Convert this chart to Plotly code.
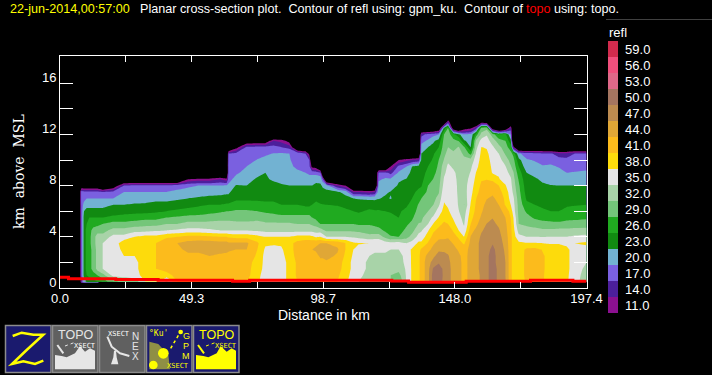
import plotly.graph_objects as go

# ---- reflectivity (dBZ) profiles: each list runs upward from 0.5 km in 0.5 km steps ----
col_00_0 = [0]
col_07_0 = [0]
col_08_0 = [14,18,18,18,18,18,18,18,18,18,18,18,18,19,19,5,0]
col_09_0 = [22,24,24,24,24,24,24,24,24,24,24,23,21,19,18,5,0]
col_10_0 = [23,26,27,27,27,27,27,27,27,26,25,24,22,20,18,5,0]
col_11_0 = [24,27,28,28,28,28,28,28,28,27,26,24,22,20,18,5,0]
col_12_5 = [25,28,30,30,30,30,31,31,30,28,26,24,22,20,18,5,0]
col_14_0 = [26,29,33,33,33,33,33,33,31,28,26,24,22,20,18,5,0]
col_16_0 = [27,31,35,35,35,35,35,33,31,29,26,24,22,20,17,0]
col_20_0 = [31,36,36,36,36,36,36,36,33,30,27,24,23,20,18,6,0]
col_24_0 = [33,36,36,37,38,39,40,36,33,30,27,25,23,21,20,17,0]
col_28_0 = [33,37,37,37,38,40,40,38,34,30.5,27.5,25,23.5,21,20,18,0]
col_32_0 = [38,39,40,40,40,40,40,39,34,31,28,25,23.5,21.5,20,18,0]
col_36_0 = [40,41,41,41,41,41,41,39,34.5,31,28,25.5,24,22,20,18,0]
col_40_0 = [34,40,42,42,42,42,43,40.5,35,32,29,26,24,22,20,18,0]
col_44_0 = [41,42,42,42,42,43,44,41,35.5,32,29.5,26.5,24.5,22.5,20.5,19,0]
col_48_0 = [41,42,42,42,43,45,45,42,36,33,30,27,25,23,21,19.5,11,0]
col_52_0 = [41,42,42,42,43,45,45.5,42,36,33,30,27.5,25.5,23.5,21,20,12,0]
col_56_0 = [41,42,42,43,44,45.5,45.5,41.5,35.5,33,30.5,28,26,24,21.5,20,12,0]
col_60_0 = [41,42,42,43,43.5,45,45,41,35,33,31,28.5,26,24,22,20,14,0]
col_62_5 = [41,42,42,42,43,45,45,41,35,33,31,29,26.5,24,22.5,20.5,12,0]
col_63_2 = [41,42,42,42,43,44.5,44.5,40.5,35,33,31,29,26.5,24,22.5,20.5,19,19,19,18,17,0]
col_66_0 = [41,42,42,42,43,44,44.5,40,35,33,30.5,29.5,27,25.5,24.5,23.2,21,19.5,18.5,18.5,18,9,0]
col_70_0 = [41,42,42,42,43,44,44.5,40,35,33,30.5,29.5,27,25.5,24.5,23,22,21,20,18.5,18,18,6,0]
col_74_0 = [38.5,39,39.5,40,40.5,41,41.5,39,34.5,33,31,29,26.5,25.7,24.5,24,23.4,22,21,20.2,18.5,18,7,0]
col_77_0 = [36.5,36.5,37,37,37,37.5,38.5,38,34,32.5,30.5,28.5,26.5,25.5,24.5,24,23.5,23,21.5,20.8,19.5,18,7,0]
col_80_0 = [36,36,36,36,36,37,38.5,38,34,32.5,30.5,28,26.5,25.5,24.5,24,22.5,21.5,21.2,21,20.1,18,14,0]
col_83_0 = [36.5,36.5,36.5,36.5,37,37.5,38.5,38,34,32.5,30,27.5,26,25,24,23.5,21.5,21,20.8,21,20.3,17,13,0]
col_86_0 = [39,39,39,39,39.5,40,40,38,34,32.5,30,27.5,26,25,24,23,21,20.5,20.5,20.2,20,16,9,0]
col_89_0 = [41,41.5,41.5,41.5,42,42,42,39,34,32,30,27.5,26,25,24,23,21.5,20.5,19.5,19,20,2,0]
col_92_0 = [41,42,42,42,42,43,43,39,34,32,30,27.5,25.5,24.5,23.5,23,21,20,19,19,17,0]
col_93_5 = [41,42,42,42,42.5,43.5,43,39,34,32,30,27.5,25.5,24.5,23.5,23,21,19.5,18,17,9,0]
col_94_5 = [41,42,42,42,43,44,43,38.5,34,31.5,29,27.5,26,25,24,23,21,19.5,9,0]
col_96_0 = [41,42,42,42,43,44.5,43.5,37.5,33.5,31,28,27,26.8,25.2,24.5,23.7,22,19,8,0]
col_97_6 = [42,42,42,43,44.5,45.5,44,38,33.5,29,28,27,26.2,25,24,23.5,22,18,0]
col_98_5 = [42,43,43,43,44.5,45.5,44,37,32.5,29,28,27,26.1,25,24,22.5,18,0]
col_100_0 = [42,43,43,43.5,45,46,44,35,31.5,29,28,27,26,25,24,21,0]
col_104_0 = [41,41.5,42,42.5,43.5,44.5,43,35,31.5,29,28,27,25.8,24.8,23.5,14,0]
col_107_0 = [39,39.5,40,40,40.5,41,41,35,31.5,29,27.5,26.5,25.3,24,22,11,0]
col_110_0 = [35.5,36.5,37,37,37.5,38,38.5,34.5,31.5,29,27.5,26,24.5,23,14,0]
col_112_0 = [35,36,36,36,36.5,37,38.2,34,31.3,28.6,27.5,25.5,24.5,22.8,14,0]
col_116_0 = [33,33.5,34.5,34.5,35,36,38,33,30.5,28.7,27.5,26.6,24.5,22.5,13,0]
col_118_0 = [33,33,33,33,34,36,38,33.5,30,28.5,27.3,26.3,24.3,22.5,14,0]
col_119_5 = [33,33,33,33,34,36,38,33.5,30,28,27,26.3,24.8,22.8,22,21,19.5,18,0]
col_122_0 = [32.5,33,33.5,34,34.5,35.5,36.5,31,28.5,27.5,27,26,25,23.5,22.5,21.5,20.5,18,0]
col_124_0 = [32,32,33,33.5,34,35,36,29.2,28,27.5,27,25.7,25,22.8,23.2,21,20.5,16,11,0]
col_127_0 = [29,31,33,33.5,34,35,36.5,29,27.7,27,26,25.7,25,24.5,24,23.5,22.5,20.5,18,11,0]
col_130_0 = [35.5,35.5,35.5,36,36,36.5,35,31,29.8,28.6,27.7,26.6,25.7,25,24.4,23.8,23.2,21.5,20,13,0]
col_132_0 = [38.5,38.5,38.5,38.5,38.5,38.5,36,33,31,29.7,28.5,27.6,26.8,26,25.5,25,24.5,24,23,14,0]
col_134_5 = [40.5,40.5,40.5,40.5,40.5,40,38.7,36,34.2,32.2,31,30,29.3,28,26.5,25.6,25,24.5,24,15,0]
col_135_5 = [42,42,42,42,42,41.5,38.5,36.5,34.7,32.2,31.4,30.7,30,29,27,25.8,25,24.5,24,23.6,23,21,19,16,0]
col_138_0 = [46,46,46,46,45,43,41.3,39.3,37.7,35,33.8,32,31,30.3,29.7,29,28,27,26,25,24,23,20.5,18,0]
col_140_0 = [51.5,51.5,50.5,48,46.5,45,43.6,42,40.5,38.2,35.5,33.5,32,31.2,30.4,29.7,29.1,28.2,27.3,26.4,25.7,24,22.5,19,0]
col_142_0 = [52,52,51.5,49.7,48,46.6,45,43.3,41.8,40.2,38.2,36.4,34.5,32.9,31.7,31.1,30.6,30.1,29.6,29,27.5,26,24,20,4,0]
col_144_0 = [49,49.3,49.3,48.7,47.8,46.5,44.8,43.5,42.4,41.5,40,39,38.2,37.7,37,36,35.3,34.4,33.7,32.2,31.2,30.5,30,29,24,0]
col_145_5 = [48.5,48.5,48.5,48,47.3,46,45,43.7,42.5,41,39.6,38.3,37.7,37.4,37,36.8,36.5,36,35.5,34.5,33,32,31,30.5,29,14,0]
col_147_5 = [45.5,45.5,45.5,45.5,45.3,45,43.8,42,40.7,38.9,37.6,37,36.8,36.5,36.2,36,35.8,35.5,34.6,33.4,32.5,31.2,29.8,27,6,0]
col_149_5 = [45,45,45,45,44.6,43.6,42,40.6,38,36.5,35.7,35.1,34.7,34.6,34.5,34.5,34.4,34.2,33.8,33.5,33,32.2,28.8,24,0]
col_151_5 = [43,43,43,43,43,42.6,40.6,38,35.7,34.7,34.2,33.5,31.9,33,33.6,33.8,33.8,33.5,33,32.6,31.5,29.5,23.5,20,8,0]
col_154_0 = [45,45,45,45,45,45,44.8,44.2,42.8,41,40,39,38.3,37.6,37,36.5,35.8,35.2,34.5,33,28,23,21.5,20.5,10,0]
col_156_0 = [46,46,46,46,46,46,46,45.5,44.7,43.2,42.4,41.8,41.4,40.9,40,39.4,38.8,38.1,37,36.3,35.3,34,32.5,27.5,15,0]
col_158_0 = [47.5,47.5,48,48,48,48,48,47.5,46.7,45.6,44.4,43.7,43.3,42.8,42.1,41.5,40.8,40.2,39.6,39,38.6,38.1,36,33,30,7,0]
col_160_0 = [49.5,49.5,49.5,49.5,49.5,49,49,48.5,47.7,47.1,46,45.2,44.6,43.9,43.2,42.4,40.9,40.6,40,39.5,38.8,37.7,36.3,34.7,31,5,0]
col_162_2 = [51,51,51,51,51,50.7,49.8,49,48.4,47.7,46.9,46,45.2,44.4,43.5,42,40.6,37.7,37.2,36.6,36,35.5,33.5,30.6,6,0]
col_164_5 = [49.5,49.5,49.5,49,49,48.8,48.5,48,47.4,46.5,45.8,45,44,43.3,42.2,41,38.2,37.7,37,36.2,35,33,30.5,26,0]
col_167_0 = [47.3,47,47,47,46.8,46.5,46,45.5,45,44.6,44,43,40.7,40.3,39.5,38.2,37,36.2,35.2,33.5,31.6,30.3,29,27,4,0]
col_169_0 = [42,42,42,42,42,42,42,42,41.8,41.5,41,40,38,37,36.6,36,35.4,34,32.2,31,29.8,27.5,24,20,15,0]
col_170_0 = [39.5,39.5,39.5,39.5,39.5,39.5,39.5,39.5,39,38.5,38,36.5,36,35.5,34.3,33.5,33,32.2,31,30,28.2,13,0]
col_172_0 = [39,39,39,39,39,39,38.7,35.8,33.8,32,31.5,31.2,31,30.5,30,29.5,28.7,27.5,26,24,20.5,0]
col_175_0 = [41.5,42,42,42,42,41.8,38.2,35,33,31.5,30,28.5,26.7,25.5,24.7,24.2,23.7,23,21,20.3,18.5,0]
col_178_0 = [43,43,43,43,43,42,38.2,35,33,30.8,28.5,27,26,25.3,24.5,23.9,23.4,22,20.8,19.8,18,0]
col_181_0 = [41.2,41.2,41.3,41.3,41.3,40.8,38,34.9,32.5,30,28,26.6,25.3,24.6,24,23.4,22.5,21.3,20.2,19,17.5,0]
col_184_0 = [40,40,40,40,40,40,37.7,35,32.5,30,27.5,26,25,24.3,23.7,23.1,22,21,20.4,19,17.5,0]
col_187_0 = [39.5,39.5,39.5,39.5,39.5,39.5,37.8,35,32.7,30,27,26,25.2,24.3,23.7,23,21.8,21,19.8,18.5,15,0]
col_190_0 = [38.5,38.5,38.5,38.5,38.5,38.5,37.5,35,32.7,30.2,28,26.6,25.7,24.7,23.8,23,21.5,20,19,18,15,0]
col_193_0 = [36,36.5,37,37,37,37,38,35.5,33,30.3,28.2,27,25.8,24.8,23.8,23,21.5,20.2,19,18.5,17,0]
col_197_4 = [33.5,33.5,34,35,36,37,38.5,36,33,30.5,28.5,27,26,25,24,23,21.5,20.3,19.5,18.5,17,0]

distance_km = [0,7,8,9,10,11,12.5,14,16,20,24,28,32,36,40,44,48,52,56,60,62.5,63.2,66,70,74,77,80,83,86,89,92,93.5,94.5,
               96,97.6,98.5,100,104,107,110,112,116,118,119.5,122,124,127,130,132,134.5,135.5,138,140,142,144,145.5,147.5,
               149.5,151.5,154,156,158,160,162.2,164.5,167,169,170,172,175,178,181,184,187,190,193,197.4]
profiles = [col_00_0,col_07_0,col_08_0,col_09_0,col_10_0,col_11_0,col_12_5,col_14_0,col_16_0,col_20_0,col_24_0,col_28_0,col_32_0,
            col_36_0,col_40_0,col_44_0,col_48_0,col_52_0,col_56_0,col_60_0,col_62_5,col_63_2,col_66_0,col_70_0,col_74_0,col_77_0,
            col_80_0,col_83_0,col_86_0,col_89_0,col_92_0,col_93_5,col_94_5,col_96_0,col_97_6,col_98_5,col_100_0,col_104_0,col_107_0,
            col_110_0,col_112_0,col_116_0,col_118_0,col_119_5,col_122_0,col_124_0,col_127_0,col_130_0,col_132_0,col_134_5,col_135_5,
            col_138_0,col_140_0,col_142_0,col_144_0,col_145_5,col_147_5,col_149_5,col_151_5,col_154_0,col_156_0,col_158_0,col_160_0,
            col_162_2,col_164_5,col_167_0,col_169_0,col_170_0,col_172_0,col_175_0,col_178_0,col_181_0,col_184_0,col_187_0,col_190_0,
            col_193_0,col_197_4]
profile_heights = [0.5 + 0.5 * i for i in range(27)]
near_ground_km = {8: 18, 9: 23, 10: 24, 11: 24, 12.5: 25, 14: 25}   # echo just under the topo line at the near edge

topo_km = [0, 3.2, 20.9, 36.8, 64.7, 71.1, 124.4, 130.7, 152.3, 176.4, 192.3, 197.4]
topo_height = [0.84, 0.73, 0.66, 0.60, 0.52, 0.60, 0.55, 0.45, 0.52, 0.60, 0.52, 0.52]

levels = [11, 14, 17, 20, 23, 26, 29, 32, 35, 38, 41, 44, 47, 50, 53, 56, 59]
level_colors = ["#8b1090", "#4c1f9c", "#7a60e0", "#72b2d2", "#118a11", "#20aa20", "#74c67a", "#a8d3a8", "#e5e5e5",
                "#fddb0c", "#fcbb1c", "#e0a736", "#bc8b50", "#a47560", "#df6888", "#f04f7c", "#d12b4d"]
x_tick_labels = ["0.0", "49.3", "98.7", "148.0", "197.4"]
y_tick_labels = ["0", "4", "8", "12", "16"]

# ---- layout helpers (canvas pixels to paper fractions) ----
W, H = 712, 375
def fx(x): return x / W
def fy(y): return 1 - y / H

heights = [0.36, 0.46] + profile_heights
rows = []
padded = [p + [0] * (27 - len(p)) for p in profiles]
rows.append([0] * len(distance_km))
rows.append([near_ground_km.get(k, 0) for k in distance_km])
for i in range(27):
    rows.append([c[i] for c in padded])

zmin, zmax = 8, 62
span = zmax - zmin
scale = [[0, "#000000"], [3 / span, "#000000"]]
for lv, col in zip(levels, level_colors):
    scale += [[(lv - zmin) / span, col], [(lv + 3 - zmin) / span, col]]

fig = go.Figure()
fig.add_trace(go.Contour(
    x=distance_km, y=heights, z=rows, zmin=zmin, zmax=zmax, colorscale=scale, autocontour=False,
    contours=dict(start=8, end=62, size=3, coloring="fill", showlines=False),
    line=dict(width=0, smoothing=0), hoverinfo="skip",
    colorbar=dict(
        thicknessmode="pixels", thickness=10, lenmode="pixels", len=288,
        x=fx(608), xanchor="left", xpad=0, y=fy(41), yanchor="top", ypad=0,
        outlinewidth=0, borderwidth=0, bgcolor="rgba(0,0,0,0)",
        tickmode="array", tickvals=[l + 1.5 for l in levels], ticktext=[f"{l:.1f}" for l in levels],
        ticks="outside", ticklen=5, tickcolor="rgba(0,0,0,0)",
        tickfont=dict(family="Liberation Sans", size=13, color="white")),
))
fig.add_trace(go.Scatter(x=topo_km, y=topo_height, mode="lines", line=dict(color="#ff0000", width=3, shape="hv"),
                         hoverinfo="skip", showlegend=False))

x_ticks = [24.675 * i for i in range(9)]
x_text = [x_tick_labels[i // 2] if i % 2 == 0 else "" for i in range(9)]
y_ticks = list(range(0, 18, 2))
y_text = [y_tick_labels[i // 2] if i % 2 == 0 else "" for i in range(9)]

fig.update_layout(
    width=W, height=H, autosize=False, margin=dict(l=0, r=0, t=0, b=0, pad=0, autoexpand=False), showlegend=False,
    paper_bgcolor="black", plot_bgcolor="black",
    font=dict(family="Liberation Sans", color="white", size=13),
    xaxis=dict(domain=[fx(60), fx(586.5)], range=[0, 197.4], tickmode="array", tickvals=x_ticks, ticktext=x_text,
               ticks="inside", ticklen=6, tickcolor="white", tickwidth=1, mirror="ticks", showline=True, linecolor="white",
               linewidth=1, showgrid=False, zeroline=False, tickfont=dict(size=13, color="white"), tickangle=0,
               ticklabelstandoff=-2),
    yaxis=dict(domain=[fy(288), fy(56)], range=[0, 18.125], tickmode="array", tickvals=y_ticks, ticktext=y_text,
               ticks="inside", ticklen=13, tickcolor="white", tickwidth=1, mirror="ticks", showline=True, linecolor="white",
               linewidth=1, showgrid=False, zeroline=False, tickfont=dict(size=13, color="white"), ticklabelshift=-6),
)

def label(text, x, y, size=13, color="white", family="Liberation Sans", anchor="left", angle=0, vanchor="middle"):
    fig.add_annotation(text=text, xref="paper", yref="paper", x=fx(x), y=fy(y), showarrow=False, xanchor=anchor,
                       yanchor=vanchor, textangle=angle, align="left", borderpad=0,
                       font=dict(family=family, size=size, color=color))

label("22-jun-2014,00:57:00", 9, 9, size=12.6, color="#ffff00")
label("Planar cross-section plot.  Contour of refl using: gpm_ku.  Contour of", 139, 9, size=12.6)
label("topo", 525, 9, size=12.6, color="#ff0000")
label("using: topo.", 553, 9, size=12.6)
label("refl", 608, 32)
label("Distance in km", 324, 315, anchor="center", size=14)
label("km  above  MSL", 19, 172, anchor="center", angle=-90, size=14, family="DejaVu Serif")

shapes = []
def rect(x0, y0, x1, y1, fill, line=None, lw=0):
    shapes.append(dict(type="rect", xref="paper", yref="paper", x0=fx(x0), x1=fx(x1), y0=fy(y0), y1=fy(y1),
                       fillcolor=fill, line=dict(color=line or fill, width=lw)))
def ipath(points, fill=None, line=None, lw=0, close=True, dash="solid"):
    # points in button-strip coordinates: x/3 px from the left, y/3 px from y = 320
    d = "M " + " L ".join(f"{fx(a / 3):.5f} {fy(320 + b / 3):.5f}" for a, b in points) + (" Z" if close else "")
    shapes.append(dict(type="path", xref="paper", yref="paper", path=d, fillcolor=fill or "rgba(0,0,0,0)",
                       line=dict(color=line or "rgba(0,0,0,0)", width=lw, dash=dash)))
def blob(cx, cy, r, fill):
    shapes.append(dict(type="circle", xref="paper", yref="paper", x0=fx((cx - r) / 3), x1=fx((cx + r) / 3),
                       y0=fy(320 + (cy - r) / 3), y1=fy(320 + (cy + r) / 3), fillcolor=fill, line=dict(width=0)))
rect(606, 19.5, 712, 20, "#808080")
navy, grey, edge = "#1a1a6e", "#606060", "#8c8c8c"
for x0, fill in [(5, navy), (52, grey), (99, grey), (146, navy), (193, navy)]:
    rect(x0 + 0.5, 325.5, x0 + 46, 372.5, fill, edge, 1.5)
yel, lg = "#ffff00", "#e6e6e6"
# Z button
ipath([(38, 48), (65, 38), (100, 44), (130, 44), (80, 90), (36, 132), (70, 124), (105, 132), (130, 122)], None, yel, 2.5, False)
# grey topo button
ipath([(165, 148), (165, 105), (185, 108), (200, 112), (225, 100), (240, 78), (255, 95), (270, 85), (285, 92), (285, 148)], lg)
ipath([(172, 75), (190, 100)], None, lg, 2, False)
ipath([(195, 78), (222, 68)], None, lg, 1, False, "dot")
label("TOPO", 75, 334.5, size=12.5, color=lg, anchor="center")
label("XSECT", 85, 345.5, size=7, color="white", anchor="center", family="DejaVu Sans Mono")
# nex button
label("XSECT", 119, 334, size=7, color="white", anchor="center", family="DejaVu Sans Mono")
for i, ch in enumerate("NEX"):
    label(ch, 135, 336 + i * 10, size=10, color=lg, anchor="center")
ipath([(322, 50), (335, 80), (360, 100), (388, 108)], None, lg, 2, False)
ipath([(333, 133), (355, 133), (350, 112), (348, 92), (342, 92), (340, 112)], lg)
# gpm button
ipath([(448, 148), (448, 65), (475, 72), (505, 105), (510, 148)], "#8f8f45")
blob(490, 100, 16, yel)
blob(460, 135, 13, yel)
ipath([(512, 85), (540, 38)], None, yel, 1.5, False, "dot")
blob(542, 36, 7, yel)
label("°Ku'", 158, 333, size=8, color=yel, anchor="center", family="DejaVu Sans Mono")
for i, ch in enumerate("GPM"):
    label(ch, 186, 336 + i * 10, size=9, color=yel, anchor="center")
label("XSECT", 178, 366, size=7, color=yel, anchor="center", family="DejaVu Sans Mono")
# yellow topo button
ipath([(588, 148), (588, 105), (610, 108), (625, 112), (650, 100), (662, 78), (680, 95), (695, 85), (708, 92), (708, 148)], yel)
ipath([(594, 75), (612, 100)], None, yel, 2, False)
ipath([(618, 78), (645, 68)], None, yel, 1, False, "dot")
label("TOPO", 216, 334.5, size=12.5, color=yel, anchor="center")
label("XSECT", 226, 345.5, size=7, color=yel, anchor="center", family="DejaVu Sans Mono")

fig.update_layout(shapes=shapes)
fig.write_html("out.html", config=dict(displayModeBar=False),
               post_script="document.body.style.margin='0';document.body.style.background='black';")
